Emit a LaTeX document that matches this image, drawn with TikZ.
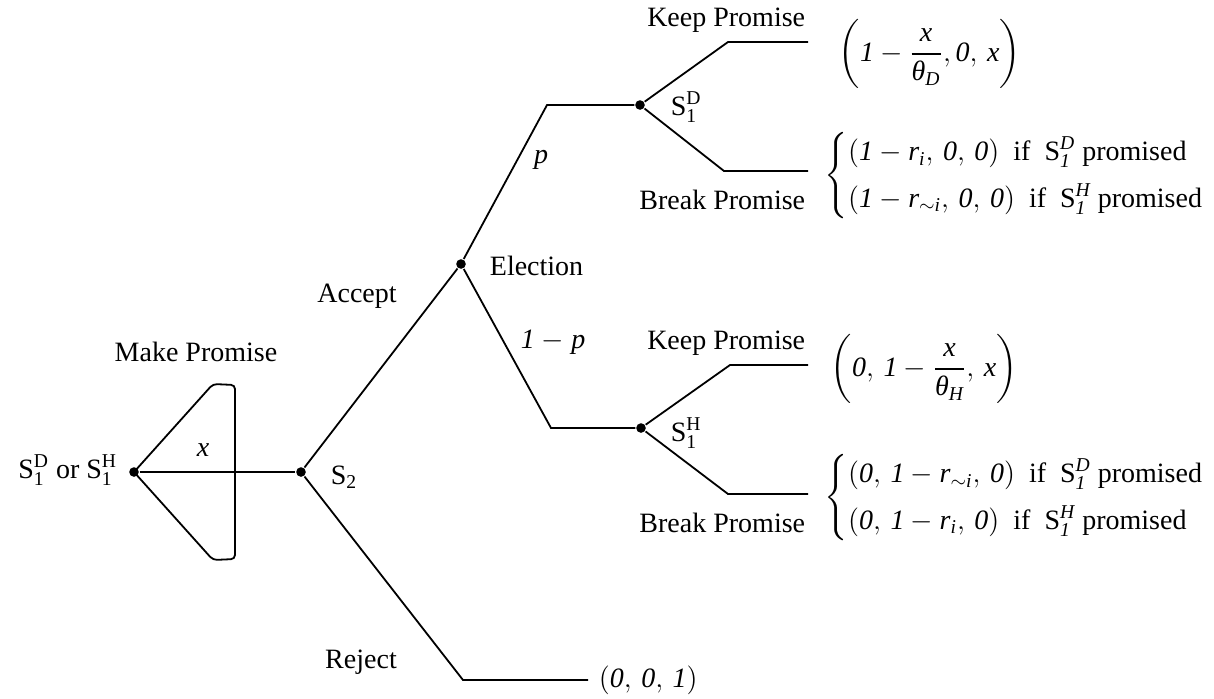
\documentclass[tikz,border=0pt]{standalone}
\usepackage{amsmath}
\usepackage{fontspec}
\setmainfont{Liberation Serif}
% italic numerals and variables as in the original figure
\newcommand{\vi}[1]{\textit{#1}}

\begin{document}
\begin{tikzpicture}[x=0.5pt, y=-0.5pt, line width=0.9pt,
    font=\fontsize{14}{17}\selectfont,
    decnode/.style={circle, fill, inner sep=0pt, minimum size=4.8pt},
    lbl/.style={inner sep=1pt}]
    \useasboundingbox (0,0) rectangle (1214,698);

    % Decision nodes
    \node[decnode] (root)  at (134,472) {};
    \node[decnode] (s2)    at (301,472) {};
    \node[decnode] (elect) at (461,264) {};
    \node[decnode] (s1d)   at (640,105) {};
    \node[decnode] (s1h)   at (641,428) {};

    % Corners and free ends of the branches
    \coordinate (mpTop) at (213,384);
    \coordinate (mpTR)  at (235,385);
    \coordinate (mpBR)  at (235,559);
    \coordinate (mpBot) at (213,560);
    \coordinate (upC)   at (547,105);
    \coordinate (lowC)  at (551,428);
    \coordinate (kdC)   at (728,42);
    \coordinate (kdE)   at (808,42);
    \coordinate (bdC)   at (724,171);
    \coordinate (bdE)   at (808,171);
    \coordinate (khC)   at (730,365);
    \coordinate (khE)   at (808,365);
    \coordinate (bhC)   at (728,494);
    \coordinate (bhE)   at (808,494);
    \coordinate (rejC)  at (463,680);
    \coordinate (rejE)  at (588,680);

    % Promise range (x)
    \draw (root) -- (s2);
    \draw[rounded corners=2pt] (root.center) -- (mpTop) -- (mpTR) -- (mpBR) -- (mpBot) -- (root.center);

    % S2 and election
    \draw (s2) -- (elect);
    \draw (s2) -- (rejC) -- (rejE);
    \draw (elect) -- (upC) -- (s1d);
    \draw (elect) -- (lowC) -- (s1h);

    % Winner keeps or breaks the promise
    \draw (s1d) -- (kdC) -- (kdE);
    \draw (s1d) -- (bdC) -- (bdE);
    \draw (s1h) -- (khC) -- (khE);
    \draw (s1h) -- (bhC) -- (bhE);

    % Labels
    \node[lbl] (lMake) at (196,352) {Make Promise};
    \node[lbl] (lX) at (203,450) {\vi{x}};
    \node[lbl, anchor=east] (lRoot) at (120,470) {$\text{S}_{\text{1}}^{\text{D}}$ or $\text{S}_{\text{1}}^{\text{H}}$};
    \node[lbl, anchor=west] (lS2) at (328,477) {$\text{S}_{\text{2}}$};
    \node[lbl] (lAccept) at (357,296) {Accept};
    \node[lbl] (lReject) at (361,662) {Reject};
    \node[lbl, anchor=west] (lElect) at (487,266) {Election};
    \node[lbl] (lP) at (541,160) {\vi{p}};
    \node[lbl, anchor=west] (lOneP) at (518,342) {\vi{1} $-$ \vi{p}};
    \node[lbl, anchor=west] (lS1D) at (668,107) {$\text{S}_{\text{1}}^{\text{D}}$};
    \node[lbl, anchor=west] (lS1H) at (668,433) {$\text{S}_{\text{1}}^{\text{H}}$};

    \node[lbl, anchor=east] (lKeepD)  at (808,20)  {Keep Promise};
    \node[lbl, anchor=east] (lBreakD) at (808,200) {Break Promise};
    \node[lbl, anchor=east] (lKeepH)  at (808,343) {Keep Promise};
    \node[lbl, anchor=east] (lBreakH) at (808,523) {Break Promise};

    % Payoffs
    \node[lbl, inner sep=0pt, anchor=west] (payKD) at (838,54)
        {$\left(\vi{1}-\dfrac{\vi{x}}{\vi{θ}_{\vi{D}}},\vi{0},\,\vi{x}\right)$};
    \node[lbl, anchor=west] (payBD) at (822,176)
        {$\begin{cases}
          (\vi{1}-\vi{r}_{\vi{i}},\,\vi{0},\,\vi{0})\ \ \text{if}\ \ \text{S}_{\vi{1}}^{\vi{D}}\ \text{promised}\\[3pt]
          (\vi{1}-\vi{r}_{\sim\vi{i}},\,\vi{0},\,\vi{0})\ \ \text{if}\ \ \text{S}_{\vi{1}}^{\vi{H}}\ \text{promised}
          \end{cases}$};
    \node[lbl, anchor=west] (payKH) at (828,369)
        {$\left(\vi{0},\,\vi{1}-\dfrac{\vi{x}}{\vi{θ}_{\vi{H}}},\,\vi{x}\right)$};
    \node[lbl, anchor=west] (payBH) at (822,498)
        {$\begin{cases}
          (\vi{0},\,\vi{1}-\vi{r}_{\sim\vi{i}},\,\vi{0})\ \ \text{if}\ \ \text{S}_{\vi{1}}^{\vi{D}}\ \text{promised}\\[3pt]
          (\vi{0},\,\vi{1}-\vi{r}_{\vi{i}},\,\vi{0})\ \ \text{if}\ \ \text{S}_{\vi{1}}^{\vi{H}}\ \text{promised}
          \end{cases}$};
    \node[lbl, anchor=west] (payRej) at (596,680) {$(\vi{0},\,\vi{0},\,\vi{1})$};
\end{tikzpicture}
\end{document}
